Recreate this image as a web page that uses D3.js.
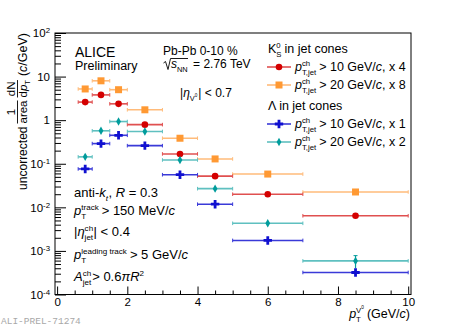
<!DOCTYPE html>
<html><head><meta charset="utf-8">
<script src="https://cdn.jsdelivr.net/npm/d3@7"></script>
<style>
html,body{margin:0;padding:0;background:#fff;}
svg{display:block;font-family:"Liberation Sans",Arial,Helvetica,sans-serif;}
text{white-space:pre;}
</style></head>
<body><svg id="c" width="457" height="328"></svg>
<script>
// ---------- data ----------
const binLo   = [0.6, 1.0, 1.5, 2.0, 3.0, 4.0, 5.0, 7.0];
const binHi   = [1.0, 1.5, 2.0, 3.0, 4.0, 5.0, 7.0, 10.0];
const binCtr  = [0.8, 1.25, 1.75, 2.5, 3.5, 4.5, 6.0, 8.5];
const k0s10   = [2.6, 3.8, 2.37, 0.79, 0.168, 0.052, 0.020, 0.0064];   // K0S, pT jet > 10, x4
const k0s20   = [5.2, 8.0, 5.0, 1.73, 0.385, 0.129, 0.058, 0.0225];    // K0S, pT jet > 20, x8
const lam10   = [0.076, 0.29, 0.45, 0.26, 0.056, 0.0118, 0.00174, 0.00032]; // Lambda > 10, x1
const lam20   = [0.144, 0.57, 0.93, 0.55, 0.122, 0.0268, 0.0043, 0.00059]; // Lambda > 20, x2
const lam20Err= [0, 0, 0, 0, 0, 0, 0, 0.00019];
const xTicks  = [0, 2, 4, 6, 8, 10];
const yTicks  = [1e-4, 1e-3, 1e-2, 1e-1, 1, 10, 100];

const svg = d3.select("#c");
const L = 55, R = 411, T = 33, B = 294.5;
const x = d3.scaleLinear().domain([-0.06, 10.08]).range([L, R]);
const y = d3.scaleLog().domain([1e-4, 1e2]).range([B, T]);

// ---------- rich text helper ----------
function rich(g, parts, size) {
  let cx = 0;
  for (const p of parts) {
    if (typeof p === "string" || p.t !== undefined) {
      const s = typeof p === "string" ? p : p.t;
      const t = g.append("text").attr("x", cx).attr("y", 0)
        .attr("font-size", size).attr("fill", "#000").text(s);
      if (p.i) t.attr("font-style", "italic");
      cx += t.node().getComputedTextLength();
    } else {
      const ss = size * 0.62;
      let w = 0;
      if (p.sup) {
        const sg = g.append("g").attr("transform", `translate(${cx},${-size * 0.42})`);
        w = Math.max(w, rich(sg, p.sup, ss));
      }
      if (p.sub) {
        const sg = g.append("g").attr("transform", `translate(${cx},${size * 0.3})`);
        w = Math.max(w, rich(sg, p.sub, ss));
      }
      cx += w + (p.after !== undefined ? p.after : 0.5);
    }
  }
  return cx;
}
function label(xp, yp, parts, size, anchor) {
  const g = svg.append("g");
  const w = rich(g, parts, size);
  const dx = anchor === "end" ? xp - w : xp;
  g.attr("transform", `translate(${dx},${yp})`);
  return g;
}

// ---------- axes ----------
const xMinor = d3.range(0, 10.01, 0.5).filter(v => v % 2 !== 0);
svg.append("g").attr("transform", `translate(0,${B})`)
  .call(d3.axisBottom(x).tickValues(xMinor).tickSize(-4).tickFormat(""))
  .call(g => g.select(".domain").remove());
const xg = svg.append("g").attr("transform", `translate(0,${B})`)
  .call(d3.axisBottom(x).tickValues(xTicks).tickSize(-8).tickPadding(3).tickFormat(d3.format("d")));
xg.select(".domain").remove();
xg.selectAll("text").attr("font-size", 11.5).attr("font-family", "Liberation Sans, Arial, sans-serif").attr("fill","#000");

const yMinor = [];
for (let e = -4; e < 2; e++) for (let m = 2; m <= 9; m++) yMinor.push(m * Math.pow(10, e));
svg.append("g").attr("transform", `translate(${L},0)`)
  .call(d3.axisLeft(y).tickValues(yMinor).tickSize(-6).tickFormat(""))
  .call(g => g.select(".domain").remove());
const yg = svg.append("g").attr("transform", `translate(${L},0)`)
  .call(d3.axisLeft(y).tickValues(yTicks).tickSize(-11).tickPadding(5));
yg.select(".domain").remove();
yg.selectAll(".tick text").each(function (d) {
  const e = Math.round(Math.log10(d));
  const t = d3.select(this).text(null).attr("font-size", 11.5)
    .attr("font-family", "Liberation Sans, Arial, sans-serif").attr("fill", "#000");
  if (e === 0) t.text("1");
  else if (e === 1) t.text("10");
  else {
    t.append("tspan").text("10");
    t.append("tspan").attr("dy", "-0.5em").attr("font-size", "0.68em").text(String(e));
  }
});
svg.selectAll(".tick line").attr("stroke", "#000");

// frame
svg.append("rect").attr("x", L).attr("y", T).attr("width", R - L).attr("height", B - T)
  .attr("fill", "none").attr("stroke", "#000").attr("stroke-width", 1);

// ---------- markers ----------
const shapes = {
  circle: "M3.3,0A3.3,3.3 0 1,1 -3.3,0A3.3,3.3 0 1,1 3.3,0Z",
  square: "M-3.5,-3.5H3.5V3.5H-3.5Z",
  diamond: "M0,-4.2L2.4,0L0,4.2L-2.4,0Z",
  cross: "M-1.4,-4.2H1.4V-1.4H4.2V1.4H1.4V4.2H-1.4V1.4H-4.2V-1.4H-1.4Z"
};
const series = [
  { vals: k0s20, err: null, color: "#ff9933", line: "#ffbb7a", shape: "square" },
  { vals: k0s10, err: null, color: "#d40000", line: "#e05050", shape: "circle" },
  { vals: lam20, err: lam20Err, color: "#009c9c", line: "#5fc0c0", shape: "diamond" },
  { vals: lam10, err: null, color: "#1010d0", line: "#3a3ad8", shape: "cross" }
];
series.forEach(s => {
  const g = svg.append("g");
  s.vals.forEach((v, i) => {
    const yy = y(v);
    g.append("line").attr("x1", x(binLo[i])).attr("x2", x(binHi[i])).attr("y1", yy).attr("y2", yy)
      .attr("stroke", s.line).attr("stroke-width", 1.6);
    [binLo[i], binHi[i]].forEach(b => g.append("line").attr("x1", x(b)).attr("x2", x(b))
      .attr("y1", yy - 1.8).attr("y2", yy + 1.8).attr("stroke", s.line).attr("stroke-width", 1));
    if (s.err && s.err[i] > 0) {
      g.append("line").attr("x1", x(binCtr[i])).attr("x2", x(binCtr[i]))
        .attr("y1", y(v + s.err[i])).attr("y2", y(v - s.err[i])).attr("stroke", s.color).attr("stroke-width", 1.2);
      g.append("line").attr("x1", x(binCtr[i]) - 2).attr("x2", x(binCtr[i]) + 2)
        .attr("y1", y(v + s.err[i])).attr("y2", y(v + s.err[i])).attr("stroke", s.color);
    }
    g.append("path").attr("d", shapes[s.shape]).attr("fill", s.color)
      .attr("transform", `translate(${x(binCtr[i])},${yy})`);
  });
});

// ---------- legend ----------
label(268, 53, ["K", { sup: ["0"], sub: ["S"], after: 3 }, "in jet cones"], 12.5);
label(268, 110, ["Λ in jet cones"], 12.5);
const legRows = [
  { s: series[1], yy: 67, txt: "> 10 GeV/", f: "4" },
  { s: series[0], yy: 85, txt: "> 20 GeV/", f: "8" },
  { s: series[3], yy: 124, txt: "> 10 GeV/", f: "1" },
  { s: series[2], yy: 142, txt: "> 20 GeV/", f: "2" }
];
legRows.forEach(r => {
  svg.append("line").attr("x1", 267).attr("x2", 291).attr("y1", r.yy).attr("y2", r.yy)
    .attr("stroke", r.s.line).attr("stroke-width", 1.6);
  svg.append("path").attr("d", shapes[r.s.shape]).attr("fill", r.s.color)
    .attr("transform", `translate(279,${r.yy})`);
  label(295, r.yy + 4, [{ t: "p", i: true }, { sup: ["ch"], sub: ["T,jet"], after: 3 },
    r.txt, { t: "c", i: true }, ", x " + r.f], 12.5);
});

// ---------- texts ----------
label(75, 56.5, ["ALICE"], 14);
label(75, 69.5, ["Preliminary"], 12.5);
label(163, 55, ["Pb-Pb 0-10 %"], 12);
// sqrt(s_NN)
label(171, 68, [{ t: "s", i: true }, { sub: ["NN"], after: 2 }, " = 2.76 TeV"], 12);
svg.append("path").attr("d", "M163.5,63 L165.5,61.5 L168,69.5 L170.5,58.5 L188,58.5")
  .attr("fill", "none").attr("stroke", "#000").attr("stroke-width", 0.9);
label(180, 97, ["|", { t: "η", i: true }, { sub: ["V", { sup: ["0"], after: 0 }], after: 1 }, "| < 0.7"], 12);

label(74, 197, ["anti-", { t: "k", i: true }, { sub: [{ t: "t", i: true }], after: 0.5 }, ", ", { t: "R", i: true }, " = 0.3"], 13);
label(74, 215, [{ t: "p", i: true }, { sup: ["track"], sub: ["T"], after: 3 }, "> 150 MeV/", { t: "c", i: true }], 13);
label(74, 236, ["|", { t: "η", i: true }, { sup: ["ch"], sub: ["jet"], after: 0.5 }, "| < 0.4"], 13);
label(74, 259, [{ t: "p", i: true }, { sup: ["leading track"], sub: ["T"], after: 3 }, "> 5 GeV/", { t: "c", i: true }], 13);
label(74, 281, [{ t: "A", i: true }, { sup: ["ch"], sub: ["jet"], after: 1 }, "> 0.6", { t: "π", i: true }, { t: "R", i: true }, { sup: ["2"] }], 13);

// x title
label(410, 318, [{ t: "p", i: true }, { sup: ["V", { sup: ["0"], after: 0 }], sub: ["T"], after: 3 }, "(GeV/", { t: "c", i: true }, ")"], 12.5, "end");

// y title (rotated)
(function () {
  const g = svg.append("g");
  let u = 0;
  const put = (txt, uu, v, size, italic, anchor) => {
    const t = g.append("text").attr("x", uu).attr("y", v).attr("font-size", size).text(txt);
    if (italic) t.attr("font-style", "italic");
    if (anchor) t.attr("text-anchor", anchor);
    return t.node().getComputedTextLength();
  };
  u += put("uncorrected", 0, 0, 12) + 3;
  // fraction 1/area
  const wa = put("area", u, 0, 11.5);
  put("1", u + wa / 2, -12, 11.5, false, "middle");
  g.append("line").attr("x1", u).attr("x2", u + wa).attr("y1", -9.5).attr("y2", -9.5).attr("stroke", "#000").attr("stroke-width", 0.9);
  u += wa + 3;
  // fraction dN/dpT
  const wd1 = put("d", u, 0, 11.5);
  const wd2 = put("p", u + wd1, 0, 11.5, true);
  const tT = g.append("text").attr("x", u + wd1 + wd2).attr("y", 3).attr("font-size", 7.5).text("T");
  const wf = wd1 + wd2 + tT.node().getComputedTextLength();
  put("dN", u + wf / 2, -12, 11.5, false, "middle");
  g.append("line").attr("x1", u).attr("x2", u + wf).attr("y1", -9.5).attr("y2", -9.5).attr("stroke", "#000").attr("stroke-width", 0.9);
  u += wf + 4;
  u += put("(", u, 0, 12.5);
  u += put("c", u, 0, 12.5, true);
  u += put("/GeV)", u, 0, 12.5);
  g.attr("transform", `translate(27,${T + u}) rotate(-90)`);
})();

// watermark
svg.append("text").attr("x", 1).attr("y", 324).attr("font-family", "Liberation Mono, monospace")
  .attr("font-size", 9.5).attr("fill", "#a8a8a8").text("ALI-PREL-71274");
</script></body></html>
